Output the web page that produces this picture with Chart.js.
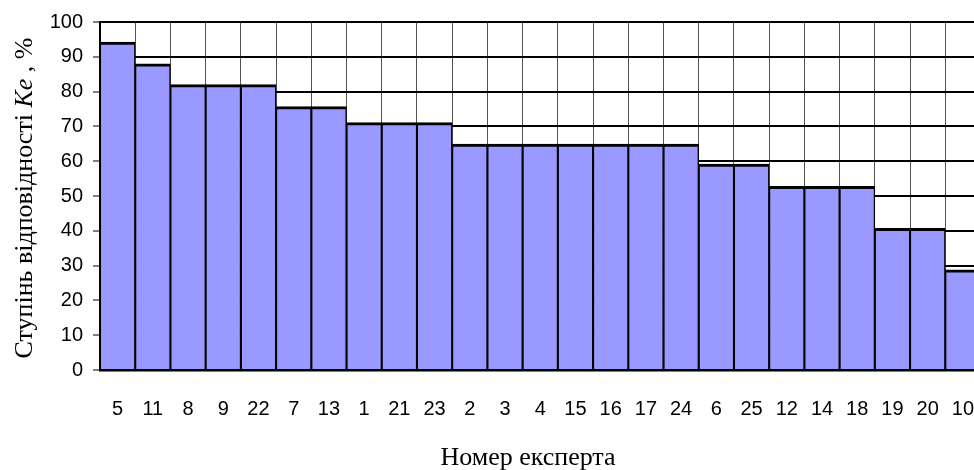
<!DOCTYPE html>
<html>
<head>
<meta charset="utf-8">
<script src="https://cdn.jsdelivr.net/npm/chart.js@4"></script>
<style>
  html, body { margin: 0; padding: 0; background: #fff; overflow: hidden; }
  #wrap { position: absolute; left: 0; top: 0; width: 1001px; height: 470px; }
</style>
</head>
<body>
<div id="wrap"><canvas id="myChart" width="1001" height="470"></canvas></div>
<script>
const experts = ["5", "11", "8", "9", "22", "7", "13", "1", "21", "23", "2", "3", "4",
  "15", "16", "17", "24", "6", "25", "12", "14", "18", "19", "20", "10"];
const keValues = [94.2, 88, 82, 82, 82, 75.7, 75.7, 71.1, 71.1, 71.1,
  64.9, 64.9, 64.9, 64.9, 64.9, 64.9, 64.9, 59.2, 59.2,
  52.8, 52.8, 52.8, 40.7, 40.7, 28.8];
const yTitleParts = [
  { text: "Ступінь відповідності ", italic: false },
  { text: "Ke", italic: true },
  { text: " , %", italic: false },
];
const xTitle = "Номер експерта";

const titles = {
  id: "titles",
  afterDraw(chart) {
    const ctx = chart.ctx;
    ctx.save();
    ctx.fillStyle = "#000";
    ctx.textBaseline = "alphabetic";
    // x axis title
    ctx.font = "26px 'Liberation Serif'";
    ctx.textAlign = "center";
    ctx.fillText(xTitle, 528, 465);
    // y axis title, rotated, with italic Ke
    const fontOf = (p) => (p.italic ? "italic " : "") + "26px 'Liberation Serif'";
    let total = 0;
    yTitleParts.forEach((p) => {
      ctx.font = fontOf(p);
      total += ctx.measureText(p.text).width;
    });
    ctx.translate(32, 198);
    ctx.rotate(-Math.PI / 2);
    ctx.textAlign = "left";
    let x = -total / 2;
    yTitleParts.forEach((p) => {
      ctx.font = fontOf(p);
      ctx.fillText(p.text, x, 0);
      x += ctx.measureText(p.text).width;
    });
    ctx.restore();
  },
};

new Chart(document.getElementById("myChart"), {
  type: "bar",
  data: {
    labels: experts,
    datasets: [
      {
        data: keValues,
        backgroundColor: "#9999FF",
        borderColor: "#000",
        borderWidth: { top: 3, left: 1.4, right: 1.4, bottom: 0 },
        borderSkipped: false,
        barPercentage: 1,
        categoryPercentage: 1,
      },
    ],
  },
  options: {
    responsive: false,
    animation: false,
    layout: { padding: { top: 21, right: 0, left: 0, bottom: 0 } },
    plugins: { legend: { display: false }, tooltip: { enabled: false } },
    scales: {
      x: {
        afterFit: (s) => { s.height = 100; },
        grid: {
          offset: true,
          color: "#555",
          lineWidth: 1,
          drawTicks: false,
        },
        border: { color: "#000", width: 2.5 },
        ticks: {
          color: "#000",
          padding: 27,
          maxRotation: 0,
          autoSkip: false,
          font: { family: "'Liberation Sans'", size: 20 },
        },
      },
      y: {
        min: 0,
        max: 100,
        afterFit: (s) => { s.width = 100; },
        grid: {
          color: "#000",
          lineWidth: 2,
          tickLength: 7,
          tickColor: "#000",
          tickWidth: 1,
        },
        border: { color: "#000", width: 2 },
        ticks: {
          stepSize: 10,
          color: "#000",
          padding: 10,
          font: { family: "'Liberation Sans'", size: 20 },
        },
      },
    },
  },
  plugins: [titles],
});
</script>
</body>
</html>
